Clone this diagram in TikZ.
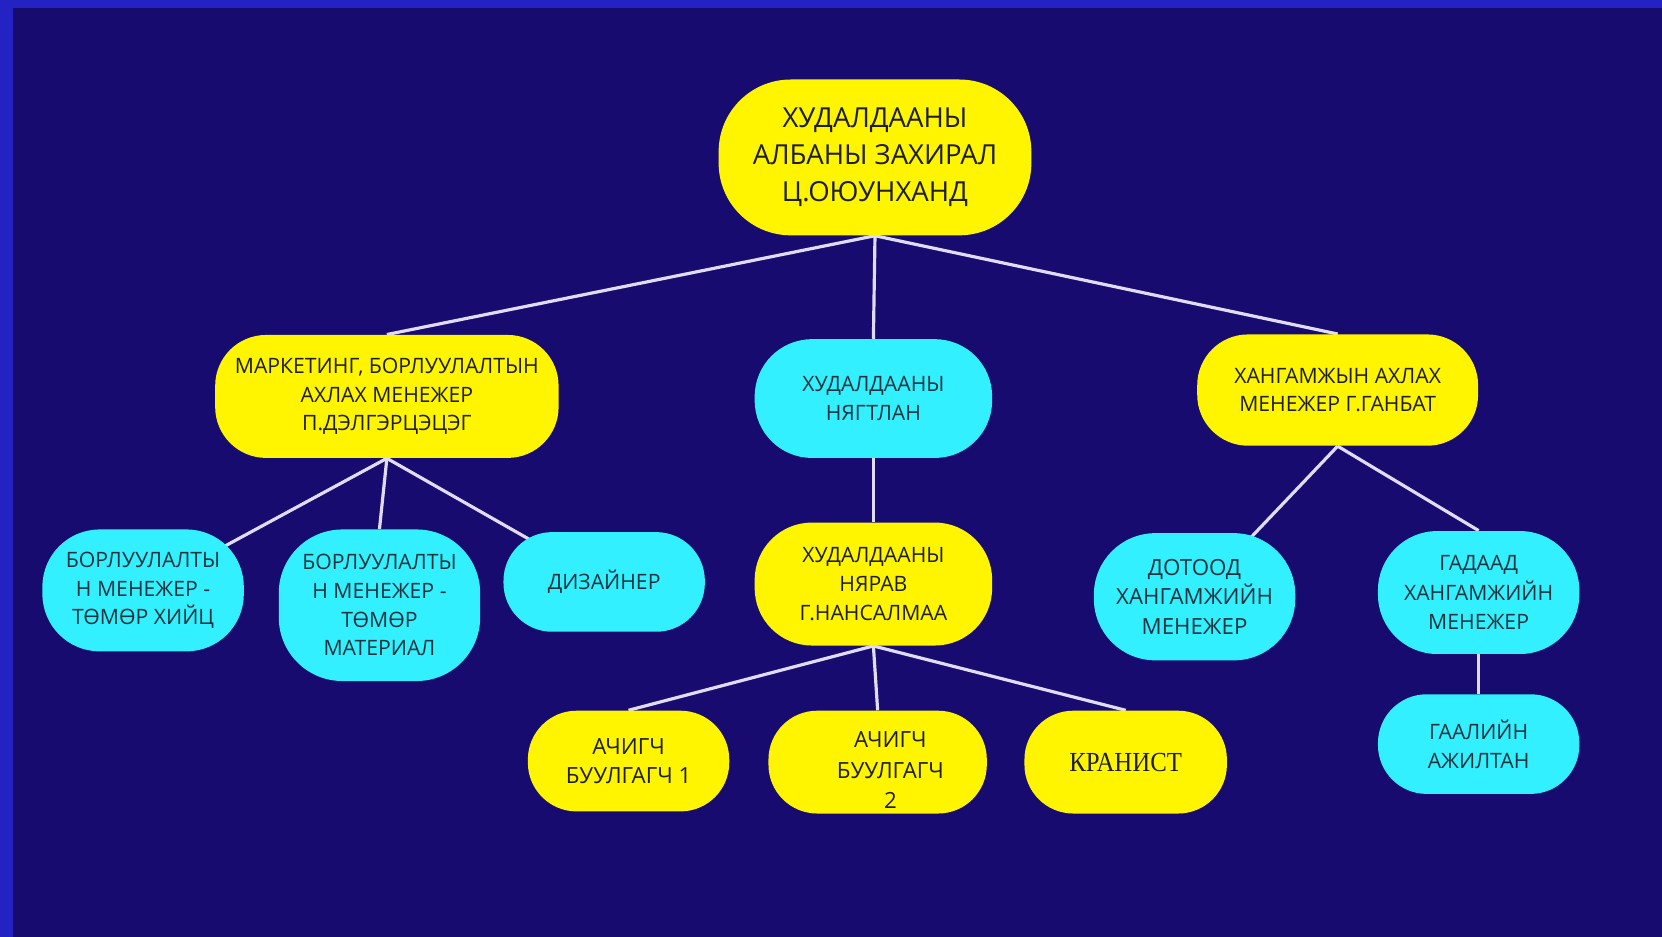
\documentclass[tikz,border=0pt]{standalone}
\usepackage{fontspec}
\setmainfont{Open Sans}
\newfontfamily\krfont{Liberation Serif}
\usetikzlibrary{backgrounds}
\definecolor{bgc}{RGB}{23,11,112}
\definecolor{framec}{RGB}{35,35,195}
\definecolor{yelc}{RGB}{255,245,0}
\definecolor{cyac}{RGB}{50,240,255}
\definecolor{linec}{RGB}{225,220,245}
\definecolor{ytxt}{RGB}{30,30,30}
\definecolor{ctxt}{RGB}{28,50,60}
\begin{document}
\begin{tikzpicture}[x=0.5pt,y=-0.5pt,
  box/.style={align=center, inner sep=0pt, font=\fontsize{10pt}{13.5pt}\selectfont},
  ybox/.style={box, fill=yelc, text=ytxt},
  cbox/.style={box, fill=cyac, text=ctxt},
  link/.style={draw=linec, line width=1.5pt}
]
\useasboundingbox (0,0) rectangle (1568,884);
% nodes
\node[ybox, minimum width=147.5pt, minimum height=73.5pt, rounded corners=34pt,
  font=\fontsize{13pt}{17.5pt}\selectfont] (root) at (825.5,148.5)
  {ХУДАЛДААНЫ\\АЛБАНЫ ЗАХИРАЛ\\Ц.ОЮУНХАНД};
\node[ybox, minimum width=162pt, minimum height=58pt, rounded corners=24pt] (mkt) at (365,374)
  {МАРКЕТИНГ, БОРЛУУЛАЛТЫН\\АХЛАХ МЕНЕЖЕР\\П.ДЭЛГЭРЦЭЦЭГ};
\node[cbox, minimum width=112pt, minimum height=56pt, rounded corners=27pt] (nyag) at (824,376)
  {ХУДАЛДААНЫ\\НЯГТЛАН};
\node[ybox, minimum width=132.5pt, minimum height=52.5pt, rounded corners=24pt] (khan) at (1262,368)
  {ХАНГАМЖЫН АХЛАХ\\МЕНЕЖЕР Г.ГАНБАТ};
\node[cbox, minimum width=95pt, minimum height=57.5pt, rounded corners=27pt] (b1) at (135,557)
  {БОРЛУУЛАЛТЫ\\Н МЕНЕЖЕР -\\ТӨМӨР ХИЙЦ};
\node[cbox, minimum width=95pt, minimum height=71.5pt, rounded corners=30pt] (b2) at (358,571)
  {БОРЛУУЛАЛТЫ\\Н МЕНЕЖЕР -\\ТӨМӨР\\МАТЕРИАЛ};
\node[cbox, minimum width=95pt, minimum height=47pt, rounded corners=23pt] (diz) at (570,549)
  {ДИЗАЙНЕР};
\node[ybox, minimum width=112pt, minimum height=58pt, rounded corners=27pt] (nyarav) at (824,551)
  {ХУДАЛДААНЫ\\НЯРАВ\\Г.НАНСАЛМАА};
\node[cbox, minimum width=95pt, minimum height=60pt, rounded corners=29pt,
  font=\fontsize{10.5pt}{14pt}\selectfont] (dotood) at (1127,563)
  {ДОТООД\\ХАНГАМЖИЙН\\МЕНЕЖЕР};
\node[cbox, minimum width=95pt, minimum height=58pt, rounded corners=28pt,
  font=\fontsize{10pt}{14pt}\selectfont] (gadaad) at (1395,559)
  {ГАДААД\\ХАНГАМЖИЙН\\МЕНЕЖЕР};
\node[cbox, minimum width=95pt, minimum height=47pt, rounded corners=23pt] (gaal) at (1395,702)
  {ГААЛИЙН\\АЖИЛТАН};
\node[ybox, minimum width=95pt, minimum height=47.5pt, rounded corners=23pt,
  font=\fontsize{10.5pt}{14pt}\selectfont] (a1) at (593,718)
  {АЧИГЧ\\БУУЛГАГЧ 1};
\node[ybox, minimum width=103pt, minimum height=48.5pt, rounded corners=23pt,
  font=\fontsize{10.5pt}{14.5pt}\selectfont] (a2) at (828,719)
  {\rule{0pt}{15pt}\hspace*{12pt}АЧИГЧ\\\hspace*{12pt}БУУЛГАГЧ\\\hspace*{12pt}2};
\node[ybox, minimum width=95.5pt, minimum height=48.5pt, rounded corners=23pt,
  font=\krfont\fontsize{13pt}{15pt}\selectfont] (kr) at (1062,719)
  {\scalebox{0.9}[1]{КРАНИСТ}};
% background and connectors
\begin{scope}[on background layer]
  \fill[framec] (0,0) rectangle (1568,884);
  \fill[bgc] (12,8) rectangle (1568,884);
  \draw[link] (root.south) -- (mkt.north);
  \draw[link] (root.south) -- (nyag.north);
  \draw[link] (root.south) -- (khan.north);
  \draw[link] (mkt.south) -- (b1.center);
  \draw[link] (mkt.south) -- (b2.north);
  \draw[link] (mkt.south) -- (diz.center);
  \draw[link] (nyag.south) -- (nyarav.north);
  \draw[link] (nyarav.south) -- (a1.north);
  \draw[link] (nyarav.south) -- (a2.north);
  \draw[link] (nyarav.south) -- (kr.north);
  \draw[link] (khan.south) -- (dotood.center);
  \draw[link] (khan.south) -- (gadaad.north);
  \draw[link] (gadaad.south) -- (gaal.north);
\end{scope}
\end{tikzpicture}
\end{document}
